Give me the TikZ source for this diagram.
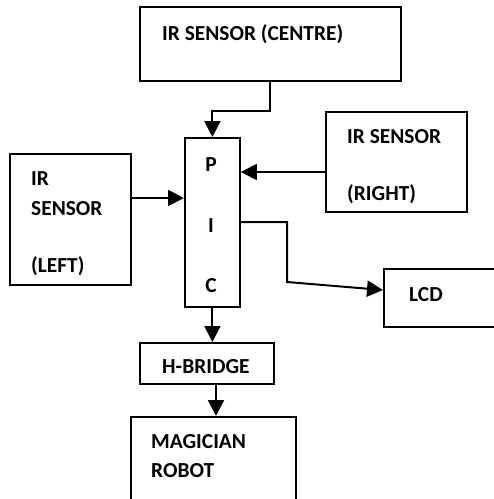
\documentclass[tikz,border=0pt]{standalone}
\usepackage{fontspec}
\setmainfont{Carlito}
\usetikzlibrary{arrows.meta,positioning,calc}

\begin{document}
\begin{tikzpicture}[
  x=1pt, y=-1pt,
  font=\fontsize{21.4}{25}\selectfont\bfseries,
  box/.style={draw, line width=1.8pt, anchor=north west, inner sep=0pt},
  txt/.style={anchor=base west, inner sep=0pt},
  pictxt/.style={anchor=base, inner sep=0pt},
  ar/.style={-{Triangle[length=16pt, width=16pt]}, line width=2pt}
]
\clip (0,0) rectangle (494,499);
% blocks
\node[box, minimum width=261pt, minimum height=74pt] (centre) at (139,6) {};
\node[box, minimum width=121pt, minimum height=131pt] (left) at (9,153) {};
\node[box, minimum width=55pt, minimum height=169pt] (pic) at (184,137) {};
\node[box, minimum width=141pt, minimum height=100pt] (right) at (325,111) {};
\node[box, minimum width=130pt, minimum height=58pt] (lcd) at (383,268) {};
\node[box, minimum width=134pt, minimum height=41pt] (hbridge) at (139,342) {};
\node[box, minimum width=165pt, minimum height=110pt] (robot) at (130,416) {};
% texts
\node[txt] (centretxt) at (162,40) {IR SENSOR (CENTRE)};
\node[txt] (lefta) at (31,185) {IR};
\node[txt] (leftb) at (31,215) {SENSOR};
\node[txt] (leftc) at (31,272) {(LEFT)};
\node[pictxt] (picp) at (211,171) {P};
\node[pictxt] (pici) at (211,232) {I};
\node[pictxt] (picc) at (211,292) {C};
\node[txt] (righta) at (347,143) {IR SENSOR};
\node[txt] (rightb) at (347,200) {(RIGHT)};
\node[txt] (lcdtxt) at (409,301) {LCD};
\node[txt] (hbtxt) at (162,373) {H-BRIDGE};
\node[txt] (robota) at (151,448) {MAGICIAN};
\node[txt] (robotb) at (151,477) {ROBOT};
% connectors
\coordinate (cbend) at (270,111);
\coordinate (lbend) at (287,222);
\coordinate (lknee) at (287,282);
\draw[ar] (cbend |- centre.south) -- (cbend) -| (pic.north);
\draw[ar] (left.east |- 0,198) -- (pic.west |- 0,198);
\draw[ar] (right.west |- 0,172) -- (pic.east |- 0,172);
\draw[ar] (pic.east |- lbend) -- (lbend) -- (lknee) -- (lcd.west |- 0,290);
\draw[ar] (pic.south) -- (pic.south |- hbridge.north);
\draw[ar] (hbridge.south -| 216,0) -- (robot.north -| 216,0);
\end{tikzpicture}
\end{document}
